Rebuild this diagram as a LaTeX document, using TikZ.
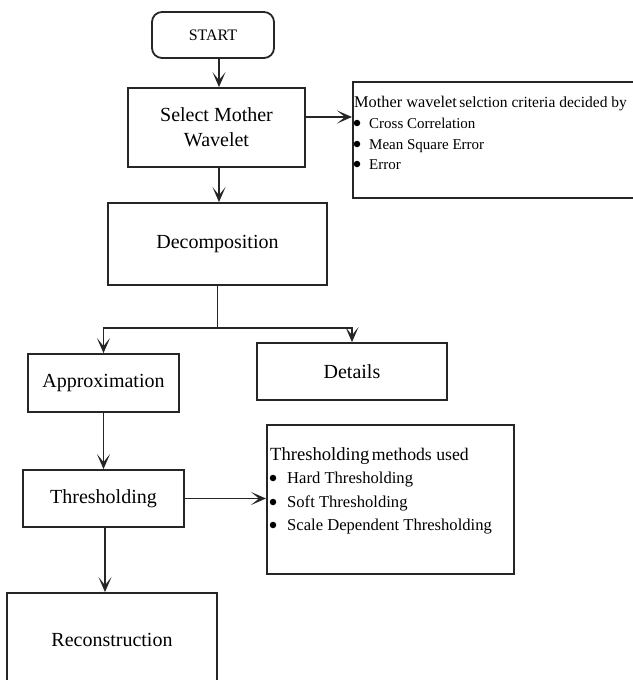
\documentclass[tikz,border=0pt]{standalone}
\usepackage{fontspec}
\setmainfont{Liberation Serif}
\usetikzlibrary{arrows.meta}
\begin{document}
\begin{tikzpicture}[x=1pt,y=-1pt,
  box/.style={draw=black!85, line width=1.8pt, inner sep=0pt, align=center, font=\fontsize{20}{25}\selectfont},
  conn/.style={draw=black!85, line width=1.8pt, -{Stealth[length=15pt,width=13pt,inset=8pt]}},
  plainline/.style={draw=black!85, line width=1.8pt},
  txt/.style={anchor=base west, inner sep=0pt},
  smalltxt/.style={txt, font=\fontsize{15}{18}\selectfont},
  medtxt/.style={txt, font=\fontsize{16.6}{20}\selectfont},
  bul/.style={circle, fill=black, inner sep=0pt, minimum size=6.5pt}]
\useasboundingbox (0,0) rectangle (632,680);
% main boxes
\node[box, rounded corners=10pt, minimum width=122pt, minimum height=46pt, font=\fontsize{16}{19}\selectfont] (start) at (213,35) {START};
\node[box, minimum width=177pt, minimum height=79pt] (sel) at (216.5,127.5) {Select Mother\\Wavelet};
\node[box, minimum width=219pt, minimum height=82pt] (dec) at (217.5,244) {Decomposition};
\node[box, minimum width=151pt, minimum height=58pt] (app) at (103.5,383) {Approximation};
\node[box, minimum width=190pt, minimum height=57pt] (det) at (352,371.5) {Details};
\node[box, minimum width=161pt, minimum height=57pt] (thr) at (103.5,498.5) {Thresholding};
\node[box, minimum width=210pt, minimum height=94pt] (rec) at (112,640) {Reconstruction};
% side boxes
\node[box, anchor=north west, minimum width=300pt, minimum height=116pt] (crit) at (352,81) {};
\node[box, anchor=north west, minimum width=247pt, minimum height=149pt] (meth) at (266,424) {};
% criteria text
\node[txt] (c0) at (354,107) {{\fontsize{16.3}{18}\selectfont Mother wavelet} {\fontsize{15.5}{18}\selectfont selction criteria decided by}};
\node[bul] (cb1) at (357,123) {};
\node[bul] (cb2) at (357,144) {};
\node[bul] (cb3) at (357,164) {};
\node[smalltxt] (c1) at (369,128) {Cross Correlation};
\node[smalltxt] (c2) at (369,149) {Mean Square Error};
\node[smalltxt] (c3) at (369,169) {Error};
% methods text
\node[txt] (m0) at (270,460) {{\fontsize{18.6}{20}\selectfont Thresholding} {\fontsize{17.7}{20}\selectfont methods used}};
\node[bul] (mb1) at (273,478) {};
\node[bul] (mb2) at (273,502) {};
\node[bul] (mb3) at (273,525) {};
\node[medtxt] (m1) at (287,483) {Hard Thresholding};
\node[medtxt] (m2) at (287,507) {Soft Thresholding};
\node[medtxt] (m3) at (287,530) {Scale Dependent Thresholding};
% connectors
\coordinate (sp) at (219,0);
\coordinate (ya) at (0,117);
\coordinate (br) at (217.5,328);
\coordinate (xr) at (105,0);
\draw[conn] (start.south -| sp) -- (sel.north -| sp);
\draw[conn] (sel.south -| sp) -- (dec.north -| sp);
\draw[conn] (sel.east |- ya) -- (crit.west |- ya);
\draw[plainline] (dec.south) -- (br);
\draw[conn] (br) -| (app.north);
\draw[conn] (br) -| (det.north);
\draw[conn] (app.south) -- (thr.north);
\draw[conn] (thr.east) -- (meth.west |- thr.east);
\draw[conn] (thr.south -| xr) -- (rec.north -| xr);
\end{tikzpicture}
\end{document}
